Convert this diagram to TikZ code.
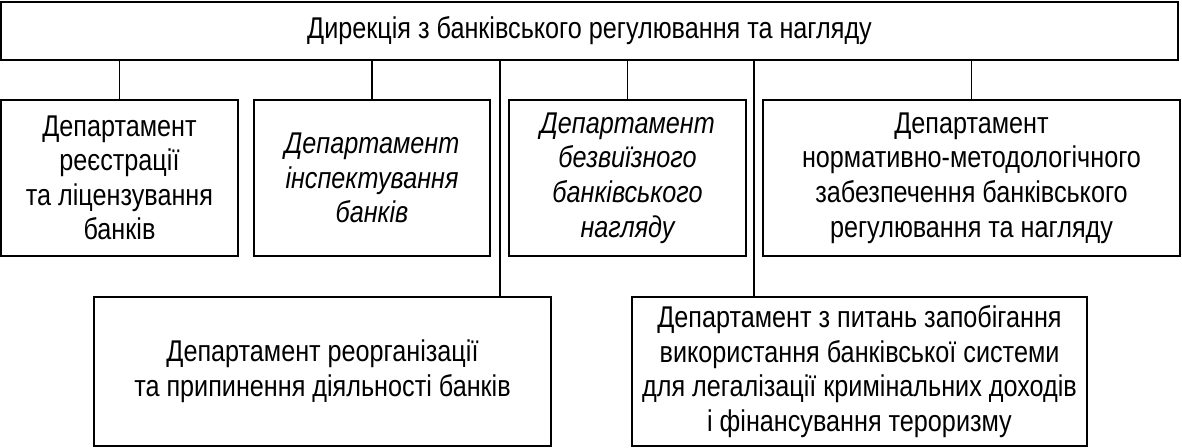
\documentclass[tikz,border=0pt]{standalone}
\usepackage{fontspec}
\setmainfont{Liberation Sans}[FakeStretch=0.84]
\begin{document}
\begin{tikzpicture}[x=0.75pt,y=-0.75pt,
  box/.style={draw, line width=1.5pt, inner sep=0pt, align=center,
    font=\fontsize{22.5}{25.9}\selectfont},
  ibox/.style={box, font=\fontsize{22.5}{25.9}\selectfont\itshape},
  shortconn/.style={line width=0.8pt},
  longconn/.style={line width=1.5pt}]
\useasboundingbox (0,0) rectangle (1182,447);
\node[box, minimum width=882.75pt, minimum height=43.5pt] (top) at (589.5,30.5) {Дирекція з банківського регулювання та нагляду};
\node[box, minimum width=177.75pt, minimum height=117pt] (b1) at (119.5,178) {Департамент\\реєстрації\\та ліцензування\\банків};
\node[ibox, minimum width=177pt, minimum height=117pt] (b2) at (372,178) {Департамент\\інспектування\\банків};
\node[ibox, minimum width=177.75pt, minimum height=117pt] (b3) at (627.5,178) {Департамент\\безвиїзного\\банківського\\нагляду};
\node[box, minimum width=312.75pt, minimum height=117pt] (b4) at (971.5,178) {Департамент\\нормативно-методологічного\\забезпечення банківського\\регулювання та нагляду};
\node[box, minimum width=342.75pt, minimum height=111.75pt] (b5) at (322.5,371.5) {Департамент реорганізації\\та припинення діяльності банків};
\node[box, minimum width=341.25pt, minimum height=111.75pt] (b6) at (859.5,371.5) {Департамент з питань запобігання\\використання банківської системи\\для легалізації кримінальних доходів\\і фінансування тероризму};
\foreach \b in {b1,b2,b3,b4}
  \draw[shortconn] (\b.north) -- (\b.north |- top.south);
\coordinate (j5) at (500,59.5);
\coordinate (j6) at (754,59.5);
\draw[longconn] (j5) -- (j5 |- b5.north);
\draw[longconn] (j6) -- (j6 |- b6.north);
\end{tikzpicture}
\end{document}
